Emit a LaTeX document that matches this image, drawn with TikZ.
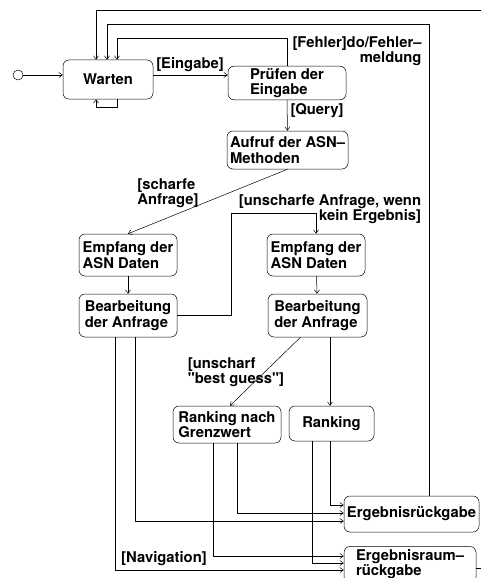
\documentclass[tikz,border=0pt]{standalone}
\usepackage{fontspec}
\setmainfont{TeX Gyre Heros}
\newfontfamily\plainquotes{TeX Gyre Heros}
\usetikzlibrary{arrows.meta}
\begin{document}
\begin{tikzpicture}[x=1pt, y=-1pt, line width=0.5pt, line join=round,
    font=\fontsize{14.8}{15.5}\selectfont\bfseries,
    >={Straight Barb[length=3.5pt,width=5pt]},
    state/.style={draw, rounded corners=6pt, align=left, inner sep=2pt},
    lbl/.style={inner sep=0pt}]
\clip (0,0) rectangle (481,578);
% states
\node[draw, circle, inner sep=0pt, minimum size=10pt] (init) at (18,75) {};
\node[state, minimum width=90pt, minimum height=39pt] (warten) at (108,79.5) {Warten};
\node[state, minimum width=118pt, minimum height=33pt] (pruefen) at (287,83) {Prüfen der\\Eingabe};
\node[state, minimum width=121pt, minimum height=38pt] (aufruf) at (287.5,150) {Aufruf der ASN--\\Methoden};
\node[state, minimum width=98pt, minimum height=42pt] (empfangA) at (128,255) {Empfang der\\ASN Daten};
\node[state, minimum width=98pt, minimum height=43pt] (bearbA) at (128,315.5) {Bearbeitung\\der Anfrage};
\node[state, minimum width=98pt, minimum height=42pt] (empfangB) at (316,255) {Empfang der\\ASN Daten};
\node[state, minimum width=99pt, minimum height=43pt] (bearbB) at (317.5,315.5) {Bearbeitung\\der Anfrage};
\node[state, minimum width=108pt, minimum height=37pt] (grenzwert) at (227,424.5) {Ranking nach\\Grenzwert};
\node[state, minimum width=85pt, minimum height=35pt] (ranking) at (331.5,423.5) {Ranking};
\node[state, minimum width=135pt, minimum height=36pt] (ergebnis) at (411.5,514) {Ergebnisrückgabe};
\node[state, minimum width=132pt, minimum height=36pt, font=\fontsize{14.8}{14}\selectfont\bfseries] (ergebnisraum) at (410,564.5) {Ergebnisraum--\\rückgabe};
% transitions
\draw[->] (init) -- (init -| warten.west);
\draw[->] ([xshift=9pt]warten.south) -- ++(0,8) -| ([xshift=-12pt]warten.south);
\draw[->] (warten.east |- init) -- (pruefen.west |- init);
\draw[->] (pruefen.north) -- ++(0,-28) -| ([xshift=9pt]warten.north);
\draw[->] ([xshift=17.5pt]ergebnis.north) |- ([xshift=-1pt,yshift=35pt]warten.north) -- ([xshift=-1pt]warten.north);
\draw[->] ([yshift=-3.5pt]ergebnisraum.east) -| (495,10) -| ([xshift=-12pt]warten.north);
\draw[->] (pruefen.south) -- (aufruf.north);
\draw[->] (aufruf.south) -- (empfangA.north);
\draw[->] (empfangA) -- (bearbA);
\draw[->] (empfangB) -- (bearbB);
\draw[->] (bearbA.east) -- ++(54,0) |- ([yshift=21pt]empfangB.north) -- (empfangB.north);
\draw[->] ([xshift=-17pt]bearbB.south) -- ([xshift=3pt]grenzwert.north);
\draw[->] ([xshift=12.5pt]bearbB.south) -- ([xshift=-1.5pt]ranking.north);
\draw[->] ([xshift=-1.5pt]ranking.south) |- ([yshift=9pt]ergebnis.west);
\draw[->] ([xshift=10pt]grenzwert.south) |- ([yshift=1pt]ergebnis.west);
\draw[->] ([xshift=7pt]bearbA.south) |- ([yshift=-7pt]ergebnis.west);
\draw[->] ([xshift=-14pt]grenzwert.south) |- ([yshift=8.5pt]ergebnisraum.west);
\draw[->] ([xshift=-19.5pt]ranking.south) |- ([yshift=1.5pt]ergebnisraum.west);
\draw[->] ([xshift=-13pt]bearbA.south) |- ([yshift=-5.5pt]ergebnisraum.west);
% guards
\node[lbl] (eingabe) at (190,65) {[Eingabe]};
\node[lbl, align=right] (fehler) at (357,51) {[Fehler]do/Fehler--\\meldung};
\node[lbl] (query) at (317,111) {[Query]};
\node[lbl, align=left] (scharf) at (168,193) {[scharfe\\Anfrage]};
\node[lbl, align=right] (unscharf) at (330,209) {[unscharfe Anfrage, wenn\\kein Ergebnis]};
\node[lbl, align=left, font=\fontsize{14.8}{15.5}\plainquotes\bfseries] (guess) at (236,372) {[unscharf\\"best guess"]};
\node[lbl] (navigation) at (164,559) {[Navigation]};
\end{tikzpicture}
\end{document}
